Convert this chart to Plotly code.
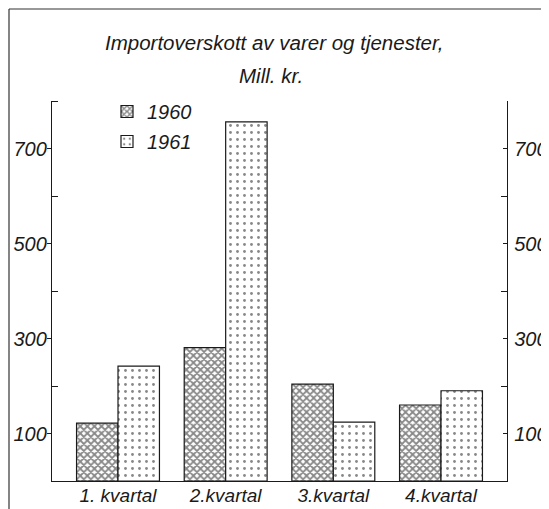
import plotly.graph_objects as go

categories = ["1. kvartal", "2.kvartal", "3.kvartal", "4.kvartal"]
series_names = ["1960", "1961"]
values_1960 = [122, 281, 204, 160]
values_1961 = [242, 756, 124, 190]
major_ticks = [100, 300, 500, 700]
minor_ticks = [200, 400, 600, 800]
title_line1 = "Importoverskott av varer og tjenester,"
title_line2 = "Mill. kr."

# page is 549x509; the html body adds an 8px offset
OFF = 8
PAGE_W, PAGE_H = 549, 509
W, H = PAGE_W - OFF, PAGE_H - OFF
# plot area in page pixels: x 52..507, y 101..481
ml, mr, mt, mb = 52 - OFF, PAGE_W - 507, 101 - OFF, PAGE_H - 481
pw, ph = W - ml - mr, H - mt - mb

def px_x(x):
    return (x - OFF - ml) / pw

def px_y(y):
    return (H - mb - (y - OFF)) / ph

FONT = "Liberation Sans, Arial, sans-serif"
ink = "#1a1a1a"

fig = go.Figure()
fig.add_trace(go.Bar(
    x=categories, y=values_1960, name=series_names[0], legendgroup="a",
    marker=dict(color="white", line=dict(color=ink, width=1.2),
                pattern=dict(shape="x", fgcolor="#111", bgcolor="white", size=5, solidity=0.6)),
))
fig.add_trace(go.Bar(
    x=categories, y=values_1961, name=series_names[1], legendgroup="b",
    marker=dict(color="white", line=dict(color=ink, width=1.2),
                pattern=dict(shape=".", fgcolor="#111", bgcolor="white", size=7, solidity=0.13)),
))
# empty trace so that the right-hand axis is drawn
fig.add_trace(go.Scatter(x=[], y=[], yaxis="y2", showlegend=False, hoverinfo="skip"))

axis_common = dict(
    range=[0, 800], showline=True, linecolor=ink, linewidth=1.3, automargin=False,
    tickmode="array", tickvals=major_ticks, ticklen=4, tickcolor=ink, tickwidth=1.2,
    showgrid=False, zeroline=False,
    tickfont=dict(family=FONT, size=20, color=ink, style="italic"),
    minor=dict(tickmode="array", tickvals=minor_ticks, ticks="inside", ticklen=6,
               tickcolor=ink, tickwidth=1, showgrid=False),
)

fig.update_layout(
    width=W, height=H,
    margin=dict(l=ml, r=mr, t=mt, b=mb, pad=0, autoexpand=False),
    paper_bgcolor="white", plot_bgcolor="white",
    barmode="group", bargap=0.23, bargroupgap=0,
    showlegend=True,
    legend=dict(x=px_x(107), y=px_y(92), xanchor="left", yanchor="top",
                bgcolor="rgba(0,0,0,0)", tracegroupgap=1,
                font=dict(family=FONT, size=20, color=ink, style="italic")),
    xaxis=dict(type="category", range=[-0.613, 3.613], showline=True, linecolor=ink,
               linewidth=1.3, ticks="", showgrid=False, zeroline=False, automargin=False,
               ticklabelstandoff=-3,
               tickfont=dict(family=FONT, size=19, color=ink, style="italic")),
    yaxis=dict(side="left", ticks="outside", ticklabelstandoff=-4, **axis_common),
    yaxis2=dict(side="right", overlaying="y", ticks="inside", ticklabelstandoff=2, **axis_common),
    annotations=[
        dict(text=title_line1, xref="paper", yref="paper", x=px_x(274), y=px_y(43),
             showarrow=False, xanchor="center", yanchor="middle",
             font=dict(family=FONT, size=20.5, color=ink, style="italic")),
        dict(text=title_line2, xref="paper", yref="paper", x=px_x(271), y=px_y(75),
             showarrow=False, xanchor="center", yanchor="middle",
             font=dict(family=FONT, size=20.5, color=ink, style="italic")),
    ],
    shapes=[
        dict(type="line", xref="paper", yref="paper", x0=px_x(9), x1=px_x(560),
             y0=px_y(9), y1=px_y(9), line=dict(color="#333", width=1.2)),
        dict(type="line", xref="paper", yref="paper", x0=px_x(9), x1=px_x(9),
             y0=px_y(9), y1=px_y(520), line=dict(color="#333", width=1.2)),
    ],
)

fig.write_html("out.html")
